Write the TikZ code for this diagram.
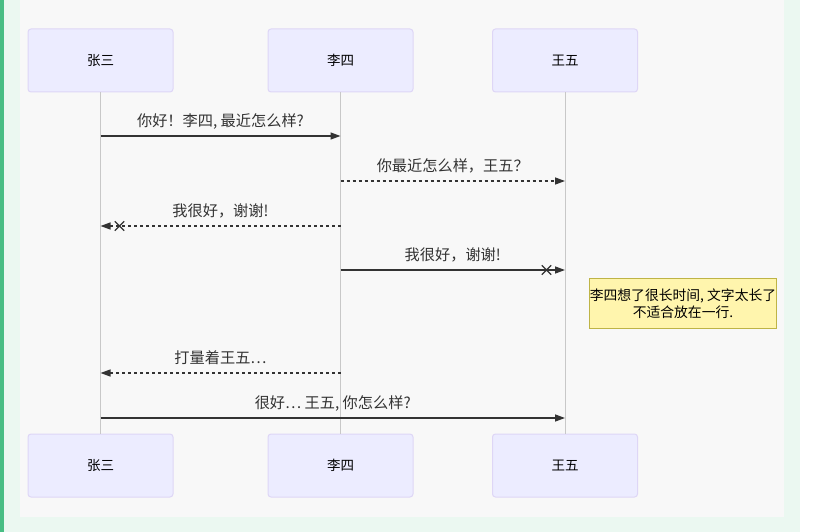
\documentclass[tikz,border=0pt]{standalone}
\usepackage{fontspec}
\newfontfamily\cjk{Noto Sans CJK SC}
\usetikzlibrary{arrows.meta,shapes.misc}
\definecolor{seqGreen}{RGB}{72,190,132}
\definecolor{seqMint}{RGB}{235,248,241}
\definecolor{seqPanel}{RGB}{248,248,248}
\definecolor{actorFill}{RGB}{236,236,255}
\definecolor{actorLine}{RGB}{222,214,246}
\definecolor{lifeGray}{RGB}{200,200,200}
\definecolor{msgGray}{RGB}{51,51,51}
\definecolor{noteFill}{RGB}{255,245,173}
\definecolor{noteLine}{RGB}{190,180,70}

\begin{document}
\begin{tikzpicture}[
  x=1pt, y=-1pt,
  every node/.style={font=\cjk},
  actor/.style={draw=actorLine, fill=actorFill, rounded corners=3pt, line width=1pt,
    minimum width=145pt, minimum height=63pt, inner sep=0pt, font=\cjk\fontsize{13.5}{16}\selectfont},
  lifeline/.style={draw=lifeGray, line width=1pt},
  msg/.style={-{Triangle[length=10pt,width=7pt]}, line width=1.3pt, draw=msgGray},
  msgdash/.style={msg, dash pattern=on 3pt off 3pt},
  msglabel/.style={anchor=base, yshift=9.5pt, text=msgGray, font=\cjk\fontsize{15.2}{18}\selectfont},
  crossmark/.style={cross out, draw=msgGray, line width=1.3pt, minimum size=8pt, inner sep=0pt},
  notebox/.style={draw=noteLine, fill=noteFill, line width=1pt, minimum width=186pt,
    minimum height=50pt, inner sep=0pt, align=center, font=\cjk\fontsize{13.8}{17}\selectfont}
]
\useasboundingbox (0,0) rectangle (824,532);

% - background -
\fill[white] (0,0) rectangle (824,532);
\fill[seqGreen] (0,0) rectangle (4,532);
\fill[seqMint] (4,0) rectangle (800,532);
\fill[seqPanel] (20,0) rectangle (784,517);

% - actors -
\node[actor] (zsTop) at (100.5,60.5) {张三};
\node[actor] (lsTop) at (340.5,60.5) {李四};
\node[actor] (wwTop) at (565,60.5) {王五};
\node[actor] (zsBot) at (100.5,465.5) {张三};
\node[actor] (lsBot) at (340.5,465.5) {李四};
\node[actor] (wwBot) at (565,465.5) {王五};

\draw[lifeline] (zsTop) -- (zsBot);
\draw[lifeline] (lsTop) -- (lsBot);
\draw[lifeline] (wwTop) -- (wwBot);

% - messages -
\coordinate (m1) at (0,136);
\coordinate (m2) at (0,181);
\coordinate (m3) at (0,226);
\coordinate (m4) at (0,270);
\coordinate (m5) at (0,373);
\coordinate (m6) at (0,418);

\draw[msg] (zsTop |- m1) -- node[msglabel] {你好！李四, 最近怎么样?} (lsTop |- m1);
\draw[msgdash] (lsTop |- m2) -- node[msglabel] {你最近怎么样，王五？} (wwTop |- m2);
\draw[msgdash] (lsTop |- m3) -- node[msglabel] {我很好，谢谢!} (zsTop |- m3);
\node[crossmark] (x3) at (119.5,226) {};
\draw[msg] (lsTop |- m4) -- node[msglabel] {我很好，谢谢!} (wwTop |- m4);
\node[crossmark] (x4) at (546.5,270) {};

\node[notebox] (think) at (683,303.5) {李四想了很长时间, 文字太长了\\不适合放在一行.};

\draw[msgdash] (lsTop |- m5) -- node[msglabel] {打量着王五…} (zsTop |- m5);
\draw[msg] (zsTop |- m6) -- node[msglabel] {很好… 王五, 你怎么样?} (wwTop |- m6);

\end{tikzpicture}
\end{document}
